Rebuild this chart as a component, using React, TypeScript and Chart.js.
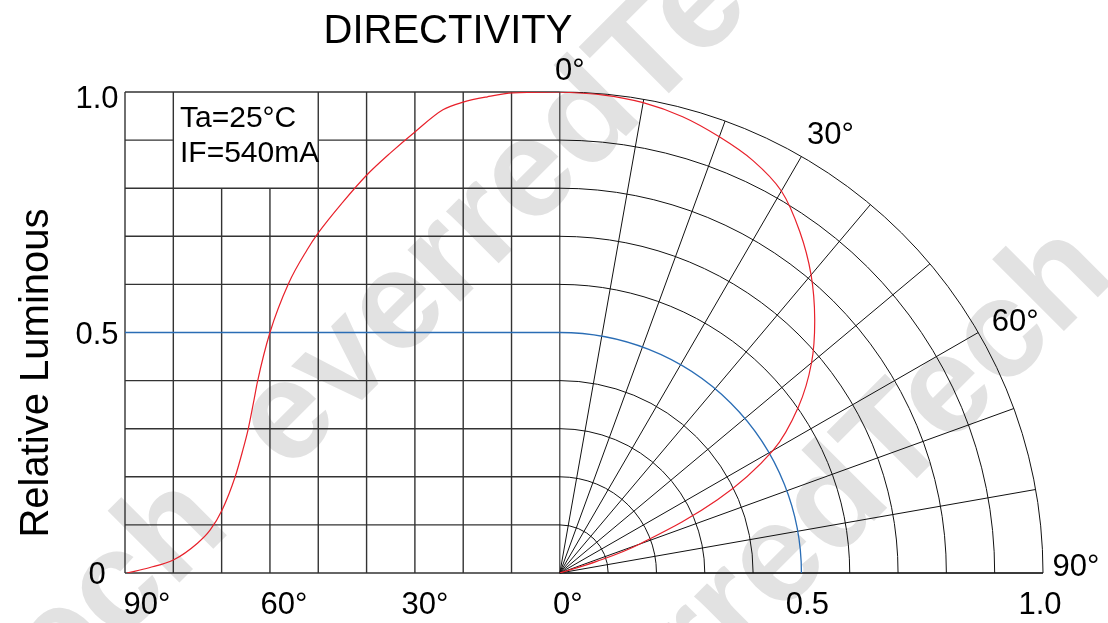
import React, { useEffect, useRef } from 'react';
import { Chart, registerables } from 'chart.js';

Chart.register(...registerables);

// ---- data ----
// Left (cartesian) part: off-axis angle in degrees vs relative luminous intensity
const leftAngles = [89.6, 85, 80, 75, 72.4, 69.9, 67.2, 65.6, 64.55, 63.3, 62.6, 60, 56.1, 52.3, 50, 45, 40, 35, 30, 24.2, 20, 15, 9.7, 0];
const leftValues = [0, 0.011, 0.027, 0.062, 0.089, 0.131, 0.2, 0.256, 0.297, 0.36, 0.397, 0.5, 0.603, 0.672, 0.707, 0.77, 0.827, 0.874, 0.917, 0.963, 0.979, 0.99, 0.998, 1.0];

// Right (polar) part: angle in degrees vs radius
const polarAngles = [0, 5, 10, 15, 20, 25, 30, 35, 40, 45, 50, 55, 60, 65, 70, 72.5, 74];
const polarValues = [1.0, 0.998, 0.993, 0.982, 0.965, 0.946, 0.917, 0.866, 0.809, 0.746, 0.68, 0.603, 0.509, 0.36, 0.175, 0.08, 0];

// Ticks / labels
const bottomTickValues = [-0.9, -0.6, -0.3, 0, 0.5, 1.0];
const bottomTickLabels = ['90°', '60°', '30°', '0°', '0.5', '1.0'];
const yTickValues = [1.0, 0.5, 0];
const yTickLabels = ['1.0', '0.5', '0'];
const polarTickAngles = [0, 30, 60, 90];
const polarTickLabels = ['0°', '30°', '60°', '90°'];
const titleText = 'DIRECTIVITY';
const yTitleText = 'Relative Luminous';
const noteLines = ['Ta=25°C', 'IF=540mA'];
const watermarkWord = 'everredTech';
const watermarkLead = 'ech  ';

// ---- layout / style ----
const LEFT_SPAN = 0.9; // x-axis value for 90° on the left grid
const angleToX = (a: number) => -(a / 90) * LEFT_SPAN;
const FONT = '"Liberation Sans", Arial, Helvetica, sans-serif';
const RED = '#e8202a';
const BLUE = '#2a6db5';

const leftData = leftAngles.map((a, i) => ({ x: angleToX(a), y: leftValues[i] }));
const polarData = polarAngles.map((a, i) => {
  const t = (a * Math.PI) / 180;
  return { x: polarValues[i] * Math.sin(t), y: polarValues[i] * Math.cos(t) };
});

const watermarkPlugin = {
  id: 'watermark',
  beforeDraw(chart: any) {
    const { ctx } = chart;
    ctx.save();
    ctx.fillStyle = '#e2e2e2';
    ctx.font = `bold 140px ${FONT}`;
    ctx.textBaseline = 'alphabetic';
    ctx.textAlign = 'left';
    const lead = ctx.measureText(watermarkLead).width;
    const starts = [
      [288, 474],
      [536, 859],
    ];
    starts.forEach(([sx, sy]) => {
      ctx.save();
      ctx.translate(sx, sy);
      ctx.rotate(-Math.PI / 4);
      ctx.fillText(watermarkLead + watermarkWord, -lead, 0);
      ctx.restore();
    });
    ctx.restore();
  },
};

const gridPlugin = {
  id: 'directivityGrid',
  beforeDatasetsDraw(chart: any) {
    const { ctx } = chart;
    const xs = chart.scales.x;
    const ys = chart.scales.y;
    const px = (v: number) => xs.getPixelForValue(v);
    const py = (v: number) => ys.getPixelForValue(v);
    const x0 = px(0);
    const y0 = py(0);
    ctx.save();

    // left cartesian grid
    ctx.lineWidth = 1.4;
    ctx.strokeStyle = '#333';
    const boxA = [80, 50];
    const boxV = 0.8;
    for (let k = 1; k <= 9; k++) {
      const a = k * 10;
      const xx = px(angleToX(a));
      const inside = a < boxA[0] && a > boxA[1];
      ctx.beginPath();
      ctx.moveTo(xx, y0);
      ctx.lineTo(xx, inside ? py(boxV) : py(1));
      ctx.stroke();
    }
    for (let k = 0; k <= 10; k++) {
      const v = k / 10;
      if (k === 5) continue;
      const yy = py(v);
      ctx.beginPath();
      if (k === 9) {
        ctx.moveTo(px(angleToX(90)), yy);
        ctx.lineTo(px(angleToX(boxA[0])), yy);
        ctx.moveTo(px(angleToX(boxA[1])), yy);
        ctx.lineTo(x0, yy);
      } else {
        ctx.moveTo(px(angleToX(90)), yy);
        ctx.lineTo(k === 0 ? px(1) : x0, yy);
      }
      ctx.stroke();
    }

    // polar arcs
    ctx.lineWidth = 1;
    ctx.strokeStyle = '#111';
    for (let k = 1; k <= 10; k++) {
      const r = k / 10;
      if (k === 5) continue;
      ctx.beginPath();
      ctx.ellipse(x0, y0, px(r) - x0, y0 - py(r), 0, -Math.PI / 2, 0);
      ctx.stroke();
    }
    // radial lines
    for (let k = 0; k <= 9; k++) {
      const t = (k * 10 * Math.PI) / 180;
      ctx.beginPath();
      ctx.moveTo(x0, y0);
      ctx.lineTo(px(Math.sin(t)), py(Math.cos(t)));
      ctx.stroke();
    }

    // blue 0.5 reference
    ctx.strokeStyle = BLUE;
    ctx.lineWidth = 1.3;
    ctx.beginPath();
    ctx.moveTo(px(angleToX(90)), py(0.5));
    ctx.lineTo(x0, py(0.5));
    ctx.stroke();
    ctx.beginPath();
    ctx.ellipse(x0, y0, px(0.5) - x0, y0 - py(0.5), 0, -Math.PI / 2, 0);
    ctx.stroke();
    ctx.restore();
  },
  afterDraw(chart: any) {
    const { ctx } = chart;
    const xs = chart.scales.x;
    const ys = chart.scales.y;
    const px = (v: number) => xs.getPixelForValue(v);
    const py = (v: number) => ys.getPixelForValue(v);
    ctx.save();
    ctx.fillStyle = '#000';

    // title
    ctx.font = `40px ${FONT}`;
    ctx.textAlign = 'center';
    ctx.textBaseline = 'alphabetic';
    ctx.fillText(titleText, 448, 43);

    // y title
    ctx.save();
    ctx.translate(48, 373);
    ctx.rotate(-Math.PI / 2);
    ctx.font = `40px ${FONT}`;
    ctx.fillText(yTitleText, 0, 0);
    ctx.restore();

    // note box text
    ctx.font = `30px ${FONT}`;
    ctx.textAlign = 'left';
    ctx.fillText(noteLines[0], 180, 127);
    ctx.fillText(noteLines[1], 180, 162);

    // bottom tick labels
    ctx.font = `31px ${FONT}`;
    ctx.textAlign = 'center';
    const bottomOffsets = [22, 14, 10, 8, 6, -3];
    bottomTickValues.forEach((v, i) => {
      ctx.fillText(bottomTickLabels[i], px(v) + bottomOffsets[i], py(0) + 41);
    });
    // y tick labels
    const yOffsets = [16, 11, 11];
    yTickValues.forEach((v, i) => {
      ctx.fillText(yTickLabels[i], 97, py(v) + yOffsets[i]);
    });
    // polar angle labels
    ctx.textBaseline = 'middle';
    const polarOffsets = [
      [10, -21],
      [29, -21],
      [37, -10],
      [33, -6],
    ];
    polarTickAngles.forEach((a, i) => {
      const t = (a * Math.PI) / 180;
      ctx.fillText(
        polarTickLabels[i],
        px(Math.sin(t)) + polarOffsets[i][0],
        py(Math.cos(t)) + polarOffsets[i][1]
      );
    });
    ctx.restore();
  },
};

export default function App() {
  const ref = useRef<HTMLCanvasElement | null>(null);
  useEffect(() => {
    if (!ref.current) return;
    const chart = new Chart(ref.current, {
      type: 'scatter',
      data: {
        datasets: [
          {
            label: 'left',
            data: leftData,
            showLine: true,
            borderColor: RED,
            borderWidth: 1.2,
            pointRadius: 0,
            cubicInterpolationMode: 'monotone',
          },
          {
            label: 'polar',
            data: polarData,
            showLine: true,
            borderColor: RED,
            borderWidth: 1.2,
            pointRadius: 0,
            tension: 0.35,
          },
        ],
      },
      options: {
        responsive: false,
        animation: false,
        devicePixelRatio: 1,
        layout: { padding: { left: 125, right: 65, top: 92, bottom: 50 } },
        plugins: { legend: { display: false }, tooltip: { enabled: false }, title: { display: false } },
        scales: {
          x: { type: 'linear', min: -LEFT_SPAN, max: 1, display: false },
          y: { type: 'linear', min: 0, max: 1, display: false },
        },
      },
      plugins: [watermarkPlugin, gridPlugin],
    } as any);
    return () => chart.destroy();
  }, []);
  return (
    <div style={{ position: 'fixed', left: 0, top: 0, width: 1108, height: 623, background: '#fff' }}>
      <canvas ref={ref} width={1108} height={623} style={{ display: 'block' }} />
    </div>
  );
}
